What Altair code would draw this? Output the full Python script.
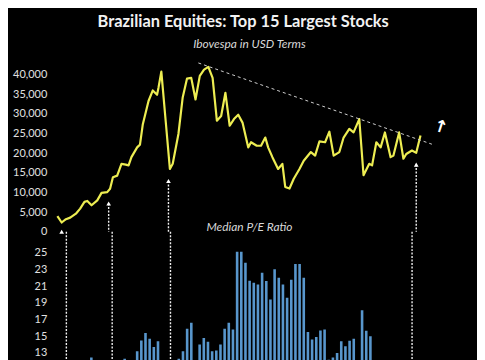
import altair as alt
import pandas as pd

# ---------------- data ----------------
line_dates = ["2002-07", "2002-10", "2003-01", "2003-04", "2003-08", "2003-11", "2004-02", "2004-04",
              "2004-07", "2004-11", "2005-02", "2005-06", "2005-08", "2005-10", "2006-01", "2006-04",
              "2006-07", "2006-09", "2006-11", "2007-03", "2007-05", "2007-07", "2007-11", "2008-02",
              "2008-05", "2008-06", "2008-08", "2008-11", "2009-02", "2009-04", "2009-08", "2009-11",
              "2010-02", "2010-05", "2010-08", "2010-11", "2011-02", "2011-05", "2011-08", "2011-11",
              "2012-02", "2012-05", "2012-08", "2012-11", "2013-02", "2013-05", "2013-09", "2013-11",
              "2014-03", "2014-06", "2014-09", "2014-11", "2015-02", "2015-06", "2015-09", "2015-11",
              "2016-02", "2016-05", "2016-09", "2016-12", "2017-05", "2017-08", "2017-11", "2018-03",
              "2018-06", "2018-09", "2019-01", "2019-04", "2019-08", "2019-11", "2020-03", "2020-06",
              "2020-10", "2020-12", "2021-03", "2021-06", "2021-09", "2022-01", "2022-03", "2022-07",
              "2022-10", "2022-12", "2023-04", "2023-07", "2023-10"]
line_values = [3980, 2350, 3200, 3600, 4600, 5900, 7600, 7850,
               6750, 8000, 9900, 10100, 10950, 13900, 14300, 17300,
               17100, 16900, 19000, 21500, 22200, 27400, 33300, 36000,
               34900, 36700, 40800, 28400, 16000, 17300, 24900, 34200,
               39000, 39200, 33700, 39700, 41300, 42000, 39200, 28300,
               29500, 35400, 27000, 28700, 29800, 27800, 21500, 22800,
               21900, 21900, 24000, 21500, 19000, 16000, 17300, 11400,
               11000, 13500, 16000, 18100, 20300, 19400, 23000, 22800,
               25500, 19400, 20300, 24000, 26200, 25300, 28700, 14400,
               17300, 16900, 22800, 21500, 25300, 19000, 19400, 25300,
               18600, 19800, 20700, 20100, 24500]

pe_start = "2002-07"  # quarterly bars
pe_values = [10.5, 10.0, 10.8, 11.2, 11.0, 11.5, 11.3, 12.45,
             11.6, 11.2, 11.0, 11.4, 11.8, 11.5, 11.9, 12.3,
             11.8, 11.9, 13.2, 14.5, 15.4, 14.7, 13.7, 14.4,
             11.5, 10.8, 9.5, 11.0, 12.3, 13.2, 15.9, 16.6,
             11.8, 14.0, 14.8, 14.35, 13.2, 13.3, 14.0, 15.9,
             16.6, 15.8, 25.1, 25.1, 23.8, 21.65, 21.4, 21.2,
             22.6, 21.6, 19.4, 23.0, 22.0, 21.2, 19.6, 21.75,
             23.65, 23.65, 22.0, 15.5, 14.6, 14.9, 15.7, 15.8,
             12.2, 12.45, 13.0, 14.4, 13.8, 14.45, 14.7, 11.5,
             18.1, 15.65, 15.0, 11.5, 10.8, 10.2, 9.6, 9.0,
             8.8, 9.2, 8.6, 8.9, 9.4, 9.8]

arrow_dates = ["2002-10", "2005-07", "2009-01", "2023-07"]
arrow_tips = [0, 7200, 12900, 17100]

trend_dates = ["2010-10", "2024-06"]
trend_values = [43000, 22300]

up_date = "2024-12"
up_value = 26600

top_ticks = [0, 5000, 10000, 15000, 20000, 25000, 30000, 35000, 40000]
pe_ticks = [13, 15, 17, 19, 21, 23, 25]

assert len(line_dates) == len(line_values)


def to_t(s):
    y, m = s.split("-")
    return int(y) + (int(m) - 1) / 12.0


# ---------------- tables ----------------
line_df = pd.DataFrame({"t": [to_t(d) for d in line_dates], "v": line_values})
t0 = to_t(pe_start)
pe_df = pd.DataFrame({"t": [t0 + i * 0.25 for i in range(len(pe_values))], "pe": pe_values})
arrow_df = pd.DataFrame({"t": [to_t(d) for d in arrow_dates], "v": arrow_tips})
trend_df = pd.DataFrame({"t": [to_t(d) for d in trend_dates], "v": trend_values})
up_df = pd.DataFrame({"t": [to_t(up_date)], "v": [up_value]})

W = 400
H_TOP = 175
H_BOT = 130
x_scale = alt.Scale(domain=[2002.11, 2025.37], nice=False, zero=False)
y_top = alt.Scale(domain=[0, 44300], nice=False, zero=False)
y_bot = alt.Scale(domain=[12.05, 27.5], nice=False, zero=False)
top_axis = alt.Axis(values=top_ticks, labelExpr="format(datum.value, ',')")

X = alt.X("t:Q", scale=x_scale, axis=None)
YT = alt.Y("v:Q", scale=y_top, axis=top_axis)

line = alt.Chart(line_df).mark_line(color="#eded52", strokeWidth=2.2, strokeJoin="round").encode(
    x=X, y=YT
)
trend = alt.Chart(trend_df).mark_line(color="#cfcfcf", strokeWidth=1, strokeDash=[3, 3]).encode(
    x=X, y=YT
)
arrow_top = alt.Chart(arrow_df).mark_rule(color="#f0f0f0", strokeWidth=1.4, strokeDash=[2, 1.5]).encode(
    x=X, y=YT, y2=alt.datum(0)
)
arrow_head = alt.Chart(arrow_df).mark_point(shape="triangle-up", filled=True, size=22, color="white", opacity=1).encode(
    x=X, y=YT
)
up_arrow = alt.Chart(up_df).mark_text(text="↑", font="DejaVu Sans", fontWeight="bold", fontSize=17,
                                      angle=18, color="white").encode(
    x=X, y=YT
)

top = alt.layer(line, trend, arrow_top, arrow_head, up_arrow).properties(
    width=W, height=H_TOP,
    title=alt.TitleParams("Ibovespa in USD Terms", fontSize=12, fontStyle="italic", fontWeight="normal",
                          color="#d9d9d9", font="Lato", anchor="middle", offset=7),
)

bars = alt.Chart(pe_df).mark_bar(size=2.6, color="#5896cc", clip=True).encode(
    x=X,
    y=alt.Y("pe:Q", scale=y_bot, axis=alt.Axis(values=pe_ticks)),
)
arrow_bot = alt.Chart(arrow_df).mark_rule(color="#f0f0f0", strokeWidth=1.4, strokeDash=[2, 1.5]).encode(
    x=X, y=alt.value(0), y2=alt.value(H_BOT + 10)
)
bottom = alt.layer(bars, arrow_bot).properties(
    width=W, height=H_BOT,
    title=alt.TitleParams("Median P/E Ratio", fontSize=12, fontStyle="italic", fontWeight="normal",
                          color="#d9d9d9", font="Lato", anchor="middle", offset=-3),
)

chart = alt.vconcat(top, bottom, spacing=0, bounds="flush").properties(
    title=alt.TitleParams("Brazilian Equities: Top 15 Largest Stocks", fontSize=16.5, fontWeight="bold",
                          color="#f2f2f2", font="Lato", anchor="middle", dx=12, offset=8),
    background="#000000",
    padding={"left": 4, "top": 4, "right": 27, "bottom": 0},
).configure_view(stroke=None).configure_axis(
    labelFont="Lato", labelFontSize=11, labelColor="#e0e0e0", ticks=False, domain=False, grid=False,
    labelPadding=4, minExtent=38, maxExtent=38, title=None,
)

chart.save("out.html", embed_options={"renderer": "svg", "actions": False})
